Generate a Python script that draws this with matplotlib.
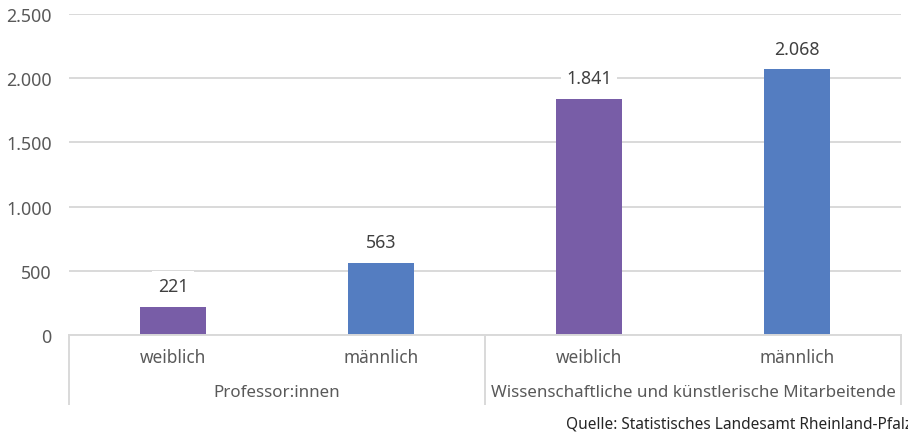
import matplotlib
matplotlib.use("Agg")
import matplotlib.pyplot as plt
from matplotlib.ticker import FuncFormatter

groups = ["Professor:innen", "Wissenschaftliche und künstlerische Mitarbeitende"]
subcats = ["weiblich", "männlich", "weiblich", "männlich"]
values = [221, 563, 1841, 2068]
colors = ["#785DA7", "#547DC1", "#785DA7", "#547DC1"]
yticks = [0, 500, 1000, 1500, 2000, 2500]
source = "Quelle: Statistisches Landesamt Rheinland-Pfalz"

plt.rcParams['font.family'] = ['Noto Sans', 'DejaVu Sans']
W, H = 908, 439
fig = plt.figure(figsize=(W / 100, H / 100), dpi=100)
ax = fig.add_axes([69 / W, (H - 336) / H, (901 - 69) / W, (336 - 15) / H])

txt = "#595959"
grid = "#D9D9D9"
x = list(range(len(values)))
ax.bar(x, values, width=0.32, color=colors, zorder=3)
ax.set_xlim(-0.5, len(values) - 0.5)
ax.set_ylim(0, 2500)
ax.set_yticks(yticks)
ax.yaxis.set_major_formatter(FuncFormatter(lambda v, p: f"{int(v):,}".replace(",", ".")))
ax.tick_params(axis='y', length=0, pad=12.5, labelsize=12.8, labelcolor=txt)
ax.set_xticks([])
ax.grid(axis='y', color=grid, linewidth=1.4, zorder=0)
for s in ["top", "right", "left"]:
    ax.spines[s].set_visible(False)
ax.spines["bottom"].set_color(grid)
ax.spines["bottom"].set_linewidth(1.4)
ax.spines["bottom"].set_zorder(4)

for xi, v in zip(x, values):
    ax.annotate(f"{v:,}".replace(",", "."), (xi, v), xytext=(0, 15), textcoords="offset points",
                ha="center", va="center", fontsize=12.8, color="#404040", zorder=5,
                bbox=dict(boxstyle="square,pad=0.3", fc="white", ec="none"))

trans = ax.get_xaxis_transform()
for xi, lab in zip(x, subcats):
    ax.text(xi, -22 / 321, lab, transform=trans, ha="center", va="center", fontsize=12.4, color=txt)
ngroup = len(subcats) // len(groups)
for gi, g in enumerate(groups):
    center = gi * ngroup + (ngroup - 1) / 2
    ax.text(center, -57 / 321, g, transform=trans, ha="center", va="center", fontsize=12.2, color=txt)
for b in range(len(groups) + 1):
    xb = b * ngroup - 0.5
    ax.plot([xb, xb], [0, -69 / 321], transform=trans, color=grid, linewidth=1.4, clip_on=False)

fig.text(566 / W, 1 - 425 / H, source, ha="left", va="center", fontsize=11.1, color="#262626")
fig.savefig("out.png", dpi=100)
